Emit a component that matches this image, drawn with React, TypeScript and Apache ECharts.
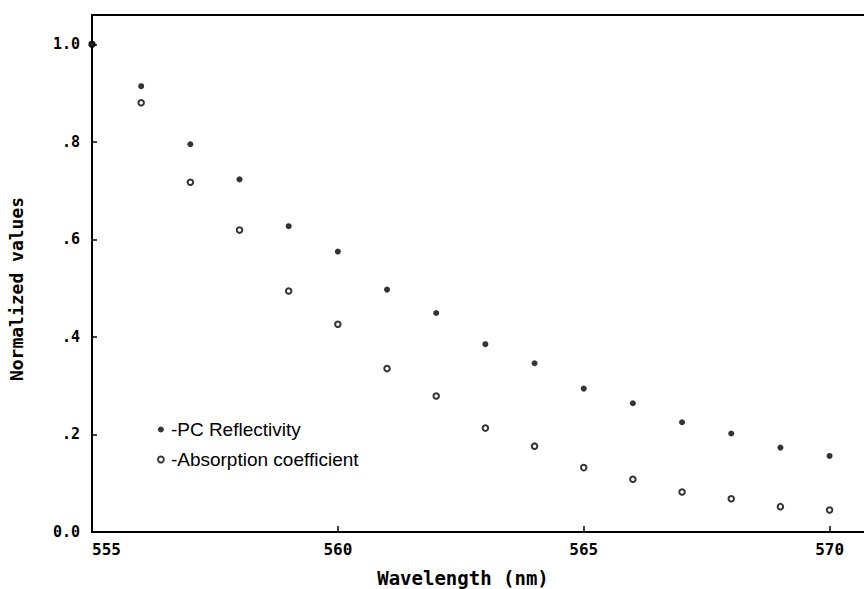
import React, { useEffect, useRef } from "react";
import * as echarts from "echarts";

const wavelengths = [555, 556, 557, 558, 559, 560, 561, 562, 563, 564, 565, 566, 567, 568, 569, 570];
const reflectivity = [1.0, 0.914, 0.795, 0.723, 0.627, 0.575, 0.497, 0.449, 0.385, 0.346, 0.294, 0.264, 0.225, 0.202, 0.173, 0.156];
const absorption = [1.0, 0.88, 0.717, 0.619, 0.494, 0.426, 0.335, 0.279, 0.213, 0.176, 0.132, 0.108, 0.082, 0.068, 0.052, 0.045];
const xTicks = [555, 560, 565, 570];
const yTicks = [0, 0.2, 0.4, 0.6, 0.8, 1.0];
const yTickLabels = ["0.0", ".2", ".4", ".6", ".8", "1.0"];
const seriesNames = ["PC Reflectivity", "Absorption coefficient"];
const xName = "Wavelength (nm)";
const yName = "Normalized values";

const MONO = "'DejaVu Sans Mono', monospace";
const SANS = "'Liberation Sans', Arial, sans-serif";

export default function App() {
  const ref = useRef<HTMLDivElement>(null);
  useEffect(() => {
    if (!ref.current) return;
    const chart = echarts.init(ref.current, null, { renderer: "svg" });
    const labelStyle = {
      color: "#000",
      fontFamily: MONO,
      fontWeight: "bold",
    };
    chart.setOption({
      animation: false,
      backgroundColor: "#fff",
      grid: { left: 92, top: 15, right: 0, bottom: 57, show: false },
      xAxis: [
        {
          type: "value",
          min: 555,
          max: 570.7,
          interval: 5,
          splitLine: { show: false },
          axisLine: { lineStyle: { color: "#000", width: 2 } },
          axisTick: {
            inside: true,
            length: 6,
            customValues: xTicks,
            lineStyle: { color: "#000", width: 1.5 },
          },
          axisLabel: {
            ...labelStyle,
            customValues: xTicks,
            alignMinLabel: "left",
            margin: 9,
            fontSize: 16,
          },
        },
        {
          type: "value",
          position: "top",
          min: 555,
          max: 570.7,
          interval: 5,
          splitLine: { show: false },
          axisLine: { lineStyle: { color: "#000", width: 2 } },
          axisTick: { show: false },
          axisLabel: { show: false },
        },
      ],
      yAxis: {
        type: "value",
        min: 0,
        max: 1.06,
        interval: 0.2,
        splitLine: { show: false },
        axisLine: { lineStyle: { color: "#000", width: 2 } },
        axisTick: {
          inside: true,
          length: 5,
          customValues: yTicks,
          lineStyle: { color: "#000", width: 1.5 },
        },
        axisLabel: {
          ...labelStyle,
          customValues: yTicks,
          margin: 12,
          fontSize: 15,
          formatter: (v: number) => yTickLabels[Math.round(v / 0.2)] ?? "",
        },
      },
      legend: {
        orient: "vertical",
        left: 152,
        top: 415,
        itemWidth: 6,
        itemHeight: 6,
        itemGap: 11,
        formatter: (name: string) => "-" + name,
        textStyle: {
          color: "#000",
          fontFamily: SANS,
          fontSize: 19,
          lineHeight: 19,
          padding: [0, 0, 0, 2],
        },
        data: [
          { name: seriesNames[0], icon: "circle", itemStyle: { color: "#000", borderWidth: 0 } },
          { name: seriesNames[1], icon: "circle", itemStyle: { color: "#fff", borderColor: "#000", borderWidth: 1.8 } },
        ],
      },
      series: [
        {
          name: seriesNames[1],
          type: "scatter",
          z: 2,
          symbol: "circle",
          symbolSize: 5.5,
          itemStyle: { color: "#fff", borderColor: "#000", borderWidth: 2 },
          data: wavelengths.map((w, i) => [w, absorption[i]]),
        },
        {
          name: seriesNames[0],
          type: "scatter",
          z: 3,
          symbol: "circle",
          symbolSize: 6,
          itemStyle: { color: "#000" },
          data: wavelengths.map((w, i) => [w, reflectivity[i]]),
        },
      ],
      graphic: [
        {
          type: "text",
          x: 463,
          y: 578,
          style: {
            text: xName,
            fill: "#000",
            font: `bold 19px ${MONO}`,
            align: "center",
            verticalAlign: "middle",
          },
        },
        {
          type: "text",
          x: 16,
          y: 289,
          rotation: Math.PI / 2,
          style: {
            text: yName,
            fill: "#000",
            font: `bold 18px ${MONO}`,
            align: "center",
            verticalAlign: "middle",
          },
        },
      ],
    });
    return () => chart.dispose();
  }, []);
  return (
    <div
      ref={ref}
      style={{ position: "fixed", left: 0, top: 0, width: 864, height: 589 }}
    />
  );
}
